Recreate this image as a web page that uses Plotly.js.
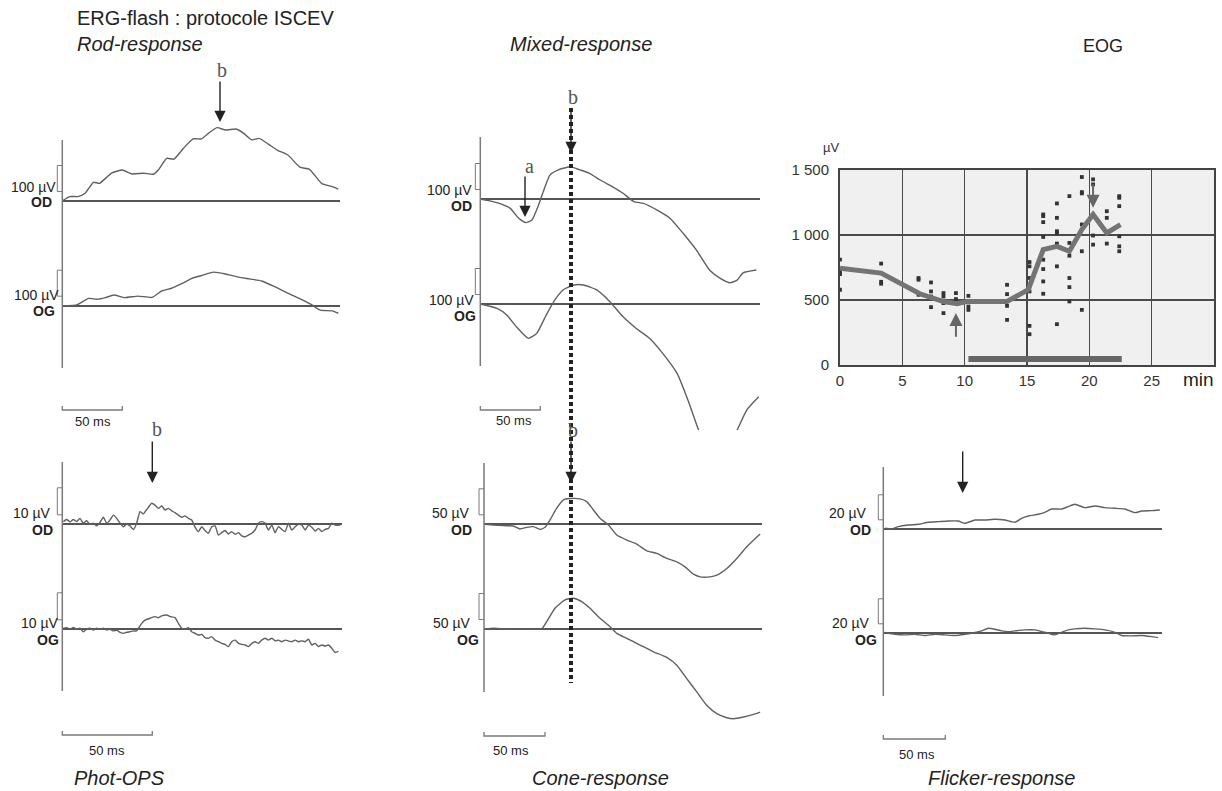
<!DOCTYPE html>
<html>
<head>
<meta charset="utf-8">
<script src="https://cdn.plot.ly/plotly-3.0.1.min.js"></script>
<style>html,body{margin:0;padding:0;background:#fff;}#chart{width:1222px;height:791px;}</style>
</head>
<body>
<div id="chart"></div>
<script>
// ================= DATA =================
// Rod-response (ms, µV)
const rodOD_t = [0,6,13,19,26,31,41,50,58,68,76,80,87,93,101,109,116,122,129,136,145,151,158,164,172,179,188,198,206,216,225,230];
const rodOD_v = [0,17,17,30,72,68,107,119,104,107,103,119,164,161,203,239,239,261,282,273,277,261,235,241,218,196,177,130,122,68,55,46];
const rodOG_t = [0,4,12,22,29,36,43,52,63,75,83,91,100,108,116,126,136,145,156,166,177,188,200,208,215,225,230];
const rodOG_v = [0,0,3,28,25,31,41,31,37,32,57,67,86,105,116,129,122,112,103,95,73,48,22,3,-17,-20,-29];

// Mixed-response
const mixOD_t = [0,8,16,25,32,38,43,48,53,58,65,75,83,91,100,111,119,128,136,147,158,169,180,191,200,208,214,219,230];
const mixOD_v = [0,-7,-17,-36,-74,-91,-81,-30,35,92,112,124,112,99,73,45,22,-10,-17,-42,-74,-132,-196,-273,-305,-322,-312,-284,-273];
const mixOG_t = [0,14,22,30,40,47,55,62,69,78,86,97,108,119,130,141,152,164,172,177,183,193,204,214,222,232];
const mixOG_v = [0,-17,-42,-87,-132,-113,-42,15,54,73,73,54,9,-49,-94,-132,-190,-267,-357,-421,-498,-600,-560,-485,-408,-357];

// Phot-OPS
const opsOD_t = [0.6,2.4,4.3,6.1,8.0,9.8,11.7,13.5,15.4,17.2,19.1,20.9,22.8,24.7,26.5,28.4,30.2,32.1,33.9,35.8,37.6,39.5,41.3,43.2,45.0,46.9,
  49.7,51.5,53.4,55.2,57.1,58.9,60.8,62.6,64.5,66.3,68.2,70.1,71.9,73.8,75.6,77.5,79.3,81.2,83.0,84.9,86.7,88.6,90.4,92.3,94.1,96.0,97.9,99.7,
  101.6,103.4,105.3,107.1,109.0,110.8,112.7,114.5,116.4,118.2,120.1,121.9,123.8,125.6,127.5,129.4,131.2,133.1,134.9,136.8,138.6,140.5,142.3,
  144.2,146.0,147.9,149.7,151.6,154.4];
const opsOD_v = [1.0,1.8,0.9,1.8,1.0,2.2,0.4,1.3,0,0.4,-0.6,0.6,2.6,0.4,1.6,3.4,2.2,0.4,-0.9,0.1,-0.6,-1.9,0.4,4.7,3.8,5.5,
  7.8,7.1,5.9,6.8,5.3,5.9,5.0,4.3,3.4,2.6,3.1,2.2,1.6,-1.1,-2.7,-0.9,-2.3,-3.3,-0.9,-0.6,-4.0,-3.1,-2.3,-3.6,-2.7,-3.7,-3.1,-4.3,
  -4.6,-4.0,-3.3,-2.1,0.4,1.0,0.4,-2.1,-0.3,-3.1,-0.9,-1.9,-2.7,0.4,-2.1,-0.9,0,-0.3,-2.1,-0.3,-1.1,-2.5,-1.5,
  -2.7,-1.9,-1.5,0.4,-0.3,-0.3];
const opsOG_t = [0.6,2.4,4.3,6.1,8.0,9.8,11.7,13.5,15.4,17.2,19.1,20.9,22.8,24.7,26.5,28.4,30.2,32.1,33.9,35.8,37.6,39.5,41.3,
  42.3,44.1,46.0,48.8,51.5,53.4,55.2,58.0,59.9,62.6,64.5,
  66.4,68.2,70.1,71.9,73.8,75.6,77.5,79.3,81.2,83.0,84.9,86.7,88.6,90.4,92.3,94.1,96.0,97.9,99.7,101.6,103.4,105.3,107.1,109.0,110.8,
  112.7,114.5,116.4,118.2,120.1,121.9,123.8,125.6,127.5,129.4,131.2,133.1,134.9,136.8,138.6,140.5,142.3,144.2,146.0,147.9,149.7,151.6,153.4];
const opsOG_v = [0.4,0.6,0,0.7,0.1,0.4,-0.9,0,0.4,-0.3,0.4,0,0.4,-0.3,0,-0.6,-0.4,-1.1,-1.5,-1.1,-0.9,-0.6,-0.6,
  0.4,2.2,3.4,4.1,4.7,4.3,5.0,5.3,4.7,4.3,2.2,
  0.4,0.1,0.6,-0.9,-1.5,-2.1,-1.9,-3.1,-3.3,-2.7,-4.0,-4.6,-5.2,-5.6,-6.4,-4.6,-4.0,-5.2,-5.6,-5.8,-6.4,-5.2,-4.6,-5.2,-4.0,
  -3.3,-4.0,-3.3,-4.3,-4.0,-4.6,-4.0,-4.3,-4.6,-4.0,-4.6,-4.3,-4.6,-3.7,-5.8,-5.2,-6.4,-5.8,-6.2,-5.8,-7.0,-8.6,-8.2];

// Cone-response
const coneOD_t = [0.8,7.7,15.9,24.1,29.5,35,40.5,45.9,50,54.1,59.6,65.1,70.5,78.7,84.2,89.7,95.1,102,108.8,117,125.2,133.4,141.6,149.8,158,164.8,171.7,177.1,185.3,190.8,199,207.2,215.4,226.3];
const coneOD_v = [0,-1.3,-2.6,-3.3,-9.1,-5.8,-4.5,-9.7,-5.8,8.4,30.9,47,49.5,48.9,43.7,27.6,11.6,-1.3,-20.6,-30.3,-38,-50.9,-56,-65.6,-72.1,-81.8,-95.9,-101,-101,-97.8,-84.9,-65.6,-43.2,-18.7];
const coneOG_t = [0.8,7.7,15.9,24.1,32.2,40.5,47.3,51.4,58.2,66.4,73.2,80.1,86.9,95.1,103.3,108.8,117,127.9,138.9,149.8,158,166.2,174.4,182.6,190.8,199,204.5,212.7,220.9,226.3];
const coneOG_v = [0,1.3,0,-0.6,0,-0.6,0,14.2,39.9,56,59.2,52.8,39.9,20.6,4.5,-8.4,-18,-30.9,-43.8,-54.7,-69.5,-95.3,-121,-146.8,-162.9,-170.6,-172.5,-169.3,-164.2,-159.7];

// Flicker-response
const flkOD_t = [1.4,6.7,12.1,20.2,28.2,36.3,44.4,52.4,60.5,65.9,73.9,82,90,98.1,106.2,111.5,117,125,130.3,135.7,143.8,149.1,154.5,162.6,170.6,178.7,186.8,194.8,202.9,208.3,216.3,223];
const flkOD_v = [0.8,0.3,2.1,3.4,4,5.6,6.1,6.6,6.6,4.8,7.4,7.4,8,7.4,5.6,8.8,10.6,12,13.6,16.2,16.2,18.1,20,17.3,18.6,17.3,16.8,16.2,13.3,14.6,14.9,15.4];
const flkOG_t = [1.4,9.4,17.5,25.5,33.6,41.7,49.7,57.8,65.9,73.9,79.3,84.7,90,95.4,100.8,106.2,114.2,122.3,130.3,138.4,143.8,149.1,154.5,162.6,170.6,178.7,186.8,192.1,200.2,208.3,216.3,221.7];
const flkOG_v = [0.6,-0.8,-1.3,-0.8,-1.8,-0.8,-1.3,-1.8,-0.8,0.6,1.9,4,3.2,1.9,1.3,1.9,2.7,2.7,0.8,-1.3,0.8,2.7,3.5,4,3.5,2.7,0.8,-1.8,-2.1,-1.8,-2.7,-3.5];

// EOG (min, µV)
const eogMean_t = [0,3.3,6.4,7.3,8.3,9.4,10.2,13.4,15.1,16.3,17.4,18.4,19.4,20.3,21.4,22.5];
const eogMean_v = [745,707,548,520,488,471,489,489,579,888,913,875,1042,1158,1016,1080];
const eogDotTimes = [0,3.3,6.3,7.3,8.3,9.3,10.3,13.4,15.2,16.3,17.4,18.4,19.4,20.3,21.4,22.4];
const eogDotValues = [
  [810,720,700,579],[780,640,625],[669,656,540],[635,566,527,445],[553,527,476,399],[553,507],[532,450,424],
  [617,545,455,347],[792,759,669,610,566,301,237],[1158,1145,1099,985,810,738,643,548],[1243,1132,1029,1016,934,759,314],
  [1299,939,841,669,599,489],[1446,1330,1320,1081,875,424],[1428,1389,996,926],[1183,1132,934],[1299,1286,1222,990,913,875]
];
const eogLight_t = [10.3,22.6];
const eogLight_v = [46,46];
const eogTickX = [0,5,10,15,20,25];
const eogTickY = [0,500,1000,1500];
const eogTickYText = ['0','500','1 000','1 500'];
const eogArrowUp = {t:9.3, from:206, to:400};
const eogArrowDown = {t:20.3, from:1402, to:1209};

// ================= LAYOUT CONSTANTS =================
const W = 1222, H = 791;
const PX = px => px / W;
const PY = py => 1 - py / H;
const TRACE_COLOR = '#606060', BASE_COLOR = '#555', AXIS_COLOR = '#7a7a7a', INK = '#222';

const PANELS = [
  { x0:62.3, wpx:278, msPerPx:50/60, uvPerPx:100/26, calUv:100, axisTop:140, axisBot:368, barY:410, barLabel:[93,421],
    rows:[
      {eye:'OD', base:201,   box:[100,262], t:rodOD_t, v:rodOD_v, calPos:[57,187], eyePos:[53,202]},
      {eye:'OG', base:305.7, box:[240,372], t:rodOG_t, v:rodOG_v, calPos:[60,295], eyePos:[56,311]} ]},
  { x0:480.3, wpx:280, msPerPx:50/60, uvPerPx:100/26, calUv:100, axisTop:137, axisBot:366, barY:410, barLabel:[514,420],
    rows:[
      {eye:'OD', base:199, box:[120,300], t:mixOD_t, v:mixOD_v, calPos:[473,190], eyePos:[473,206]},
      {eye:'OG', base:304, box:[250,430], t:mixOG_t, v:mixOG_v, calPos:[475,300], eyePos:[477,316]} ]},
  { x0:62.3, wpx:280, msPerPx:50/90, uvPerPx:10/27, calUv:10, axisTop:462, axisBot:691, barY:735, barLabel:[107,750],
    rows:[
      {eye:'OD', base:524.3, box:[470,580], t:opsOD_t, v:opsOD_v, calPos:[52,513], eyePos:[54,530]},
      {eye:'OG', base:629.3, box:[580,690], t:opsOG_t, v:opsOG_v, calPos:[60,623], eyePos:[60,640]} ]},
  { x0:484, wpx:278, msPerPx:50/61, uvPerPx:50/26, calUv:50, axisTop:463, axisBot:692, barY:736, barLabel:[511,750],
    rows:[
      {eye:'OD', base:524.3, box:[460,620], t:coneOD_t, v:coneOD_v, calPos:[471,513], eyePos:[473,530]},
      {eye:'OG', base:629,   box:[560,740], t:coneOG_t, v:coneOG_v, calPos:[472,623], eyePos:[480,640]} ]},
  { x0:883.3, wpx:279, msPerPx:50/62, uvPerPx:20/25, calUv:20, axisTop:467, axisBot:696, barY:739, barLabel:[917,754],
    rows:[
      {eye:'OD', base:529.3, box:[470,580], t:flkOD_t, v:flkOD_v, calPos:[868,513], eyePos:[872,530]},
      {eye:'OG', base:633.3, box:[580,690], t:flkOG_t, v:flkOG_v, calPos:[871,623], eyePos:[878,640]} ]}
];

const traces = [], shapes = [], annotations = [];
const layout = {
  width:W, height:H, margin:{l:0,r:0,t:0,b:0}, paper_bgcolor:'#ffffff', plot_bgcolor:'rgba(0,0,0,0)',
  showlegend:false, hovermode:false,
  font:{family:'Liberation Sans, Arial, sans-serif', color:INK},
  shapes:shapes, annotations:annotations
};

function label(text, xpx, ypx, anchor, size, extra) {
  annotations.push(Object.assign({
    xref:'paper', yref:'paper', x:PX(xpx), y:PY(ypx), text:text, showarrow:false,
    xanchor:anchor, yanchor:'middle', borderpad:0, font:{size:size, color:INK}
  }, extra || {}));
}
function arrow(xpx, tailPy, tipPy, color, width, size) {
  annotations.push({
    xref:'paper', yref:'paper', x:PX(xpx), y:PY(tipPy), ax:0, ay:tailPy - tipPy,
    text:'', showarrow:true, arrowhead:2, arrowsize:size || 1.6, arrowwidth:width || 1.4,
    arrowcolor:color || INK, standoff:0
  });
}

// ---------- ERG panels ----------
let n = 0;
PANELS.forEach(p => {
  // vertical time-origin line
  shapes.push({type:'line', xref:'paper', yref:'paper', x0:PX(p.x0), x1:PX(p.x0), y0:PY(p.axisTop), y1:PY(p.axisBot),
    line:{color:AXIS_COLOR, width:1.5}});
  // 50 ms scale bar
  const barLen = 50 / p.msPerPx;
  shapes.push({type:'path', xref:'paper', yref:'paper',
    path:`M${PX(p.x0)},${PY(p.barY-4)} L${PX(p.x0)},${PY(p.barY)} L${PX(p.x0+barLen)},${PY(p.barY)} L${PX(p.x0+barLen)},${PY(p.barY-4)}`,
    line:{color:AXIS_COLOR, width:1.3}});
  label('50 ms', p.barLabel[0], p.barLabel[1], 'center', 13);

  p.rows.forEach(r => {
    n++;
    const sfx = n === 1 ? '' : String(n);
    const xid = 'x' + sfx, yid = 'y' + sfx;
    layout['xaxis' + sfx] = {
      domain:[PX(p.x0), PX(p.x0 + p.wpx)], range:[0, p.wpx * p.msPerPx], anchor:yid,
      showgrid:false, zeroline:false, showline:false, showticklabels:false, ticks:'', fixedrange:true
    };
    layout['yaxis' + sfx] = {
      domain:[PY(r.box[1]), PY(r.box[0])],
      range:[(r.base - r.box[1]) * p.uvPerPx, (r.base - r.box[0]) * p.uvPerPx], anchor:xid,
      showgrid:false, zeroline:true, zerolinecolor:BASE_COLOR, zerolinewidth:1.6,
      showline:false, showticklabels:false, ticks:'', fixedrange:true
    };
    traces.push({type:'scatter', mode:'lines', x:r.t, y:r.v, xaxis:xid, yaxis:yid,
      line:{color:TRACE_COLOR, width:1.4, shape:'spline', smoothing:0.5}, hoverinfo:'skip'});
    // calibration bracket
    const calPx = p.calUv / p.uvPerPx, bBot = r.base - 9.5, bTop = bBot - calPx;
    shapes.push({type:'path', xref:'paper', yref:'paper',
      path:`M${PX(p.x0)},${PY(bTop)} L${PX(p.x0-5)},${PY(bTop)} L${PX(p.x0-5)},${PY(bBot)} L${PX(p.x0)},${PY(bBot)}`,
      line:{color:AXIS_COLOR, width:1}});
    label(p.calUv + ' µV', r.calPos[0], r.calPos[1], 'right', 14);
    label('<b>' + r.eye + '</b>', r.eyePos[0], r.eyePos[1], 'right', 14);
  });
});

// dotted b-wave marker across mixed & cone responses
shapes.push({type:'line', xref:'paper', yref:'paper', x0:PX(571), x1:PX(571), y0:PY(108), y1:PY(683),
  line:{color:INK, width:4, dash:'4px,3px'}});

// wave letters and arrows
const serif = {family:'Liberation Serif, Times New Roman, serif', size:20, color:'#555'};
label('b', 222, 70, 'center', 20, {font:serif});
arrow(220, 80, 122);
label('a', 529.5, 165.5, 'center', 20, {font:serif});
arrow(525, 175, 217);
label('b', 573, 97, 'center', 20, {font:serif});
arrow(571, 110, 153);
label('b', 157, 429, 'center', 20, {font:serif});
arrow(152.3, 440, 483);
label('b', 573, 430, 'center', 20, {font:serif});
arrow(571, 440, 483);
arrow(962.7, 450, 493);

// titles
label('ERG-flash : protocole ISCEV', 76, 18, 'left', 20);
label('<i>Rod-response</i>', 76, 44, 'left', 20);
label('<i>Mixed-response</i>', 581, 44, 'center', 20);
label('EOG', 1103, 46, 'center', 18);
label('<i>Phot-OPS</i>', 120, 778, 'center', 20);
label('<i>Cone-response</i>', 600, 778, 'center', 20);
label('<i>Flicker-response</i>', 1002, 778, 'center', 20);

// ---------- EOG panel ----------
const ex = 'x11', ey = 'y11';
const eogAxisCommon = {showgrid:true, gridcolor:'#4a4a4a', gridwidth:1.5, showline:true, mirror:true, linecolor:'#444', linewidth:2,
  zeroline:false, ticks:'', tickfont:{size:15, color:'#333'}, fixedrange:true};
layout.xaxis11 = Object.assign({domain:[PX(840), PX(1214)], range:[0,30], tickvals:eogTickX, anchor:ey, ticklabelstandoff:1}, eogAxisCommon);
layout.yaxis11 = Object.assign({domain:[PY(365), PY(170)], range:[0,1500], tickvals:eogTickY, ticktext:eogTickYText, anchor:ex, ticklabelstandoff:6}, eogAxisCommon);
shapes.push({type:'rect', xref:'x11 domain', yref:'y11 domain', x0:0, x1:1, y0:0, y1:1, fillcolor:'#f0f0f0', line:{width:0}, layer:'below'});

const dotT = [], dotV = [];
eogDotTimes.forEach((t, i) => eogDotValues[i].forEach(v => { dotT.push(t); dotV.push(v); }));
traces.push({type:'scatter', mode:'lines', x:eogLight_t, y:eogLight_v, xaxis:ex, yaxis:ey,
  line:{color:'#666', width:6}, hoverinfo:'skip'});
traces.push({type:'scatter', mode:'markers', x:dotT, y:dotV, xaxis:ex, yaxis:ey,
  marker:{symbol:'square', size:3.8, color:'#333'}, hoverinfo:'skip'});
traces.push({type:'scatter', mode:'lines', x:eogMean_t, y:eogMean_v, xaxis:ex, yaxis:ey,
  line:{color:'#747474', width:5}, hoverinfo:'skip'});

[eogArrowUp, eogArrowDown].forEach(a => annotations.push({
  xref:ex, yref:ey, x:a.t, y:a.to, axref:ex, ayref:ey, ax:a.t, ay:a.from, text:'', showarrow:true,
  arrowhead:2, arrowsize:1.3, arrowwidth:2, arrowcolor:'#666', standoff:0
}));
label('µV', 831, 147, 'center', 13, {font:{size:13, color:'#333'}});
label('min', 1182, 380, 'left', 19);

Plotly.newPlot('chart', traces, layout, {staticPlot:true, displayModeBar:false});
</script>
</body>
</html>
